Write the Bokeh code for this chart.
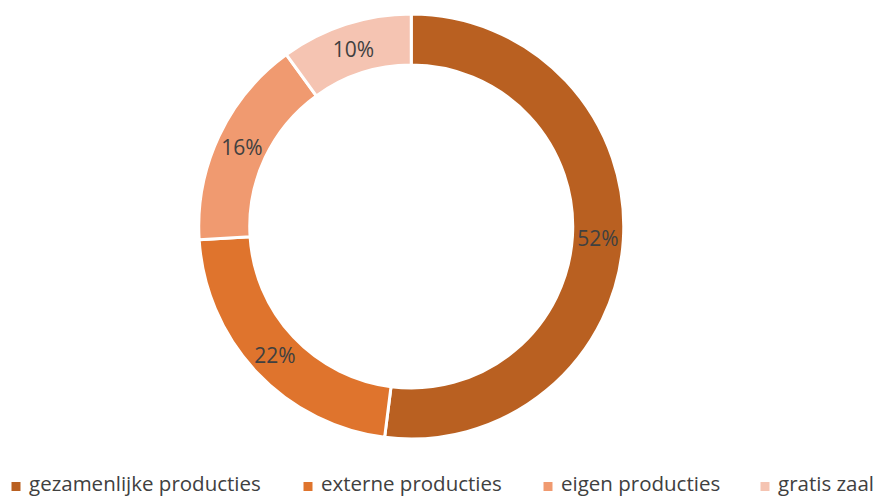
import math
from bokeh.plotting import figure
from bokeh.models import ColumnDataSource, Range1d
from bokeh.core.properties import value
from bokeh.embed import file_html
from bokeh.resources import INLINE

categories = ["gezamenlijke producties", "externe producties", "eigen producties", "gratis zaal"]
shares = [52, 22, 16, 10]
colors = ["#B96021", "#DF742D", "#F09A70", "#F5C4B2"]

W, H = 876, 496
cx, cy = 410.75, H - 226.0
r_out, r_in = 212.5, 161.5

total = sum(shares)
starts, ends, mids = [], [], []
acc = 0.0
for s in shares:
    a0 = math.pi / 2 - 2 * math.pi * acc / total
    acc += s
    a1 = math.pi / 2 - 2 * math.pi * acc / total
    starts.append(a0)
    ends.append(a1)
    mids.append((a0 + a1) / 2)

r_lab = (r_out + r_in) / 2
src = ColumnDataSource(dict(
    start=starts, end=ends, color=colors,
    lx=[cx + r_lab * math.cos(m) for m in mids],
    ly=[cy + r_lab * math.sin(m) for m in mids],
    label=[f"{s}%" for s in shares],
))

p = figure(width=W, height=H, output_backend="svg", toolbar_location=None,
           x_range=Range1d(0, W), y_range=Range1d(0, H), min_border=0)
p.axis.visible = False
p.grid.visible = False
p.outline_line_color = None
p.background_fill_color = "white"
p.border_fill_color = "white"

p.annular_wedge(x=cx, y=cy, inner_radius=r_in, outer_radius=r_out,
                start_angle="start", end_angle="end", direction="clock",
                fill_color="color", line_color="white", line_width=3, source=src)

p.text(x="lx", y="ly", text="label", source=src, text_align="center",
       text_baseline="middle", text_font=value("Open Sans"), text_font_size="21px",
       text_color="#404040")

# legend
leg_x = [15.5, 307.5, 547.5, 764.5]
leg_sq_y = H - 486
leg_txt_y = H - 482
leg_src = ColumnDataSource(dict(
    x=leg_x, tx=[x + 13 for x in leg_x], y=[leg_sq_y] * 4, ty=[leg_txt_y] * 4,
    color=colors, label=categories))
p.scatter(x="x", y="y", marker="square", size=9, fill_color="color",
          line_color=None, source=leg_src)
p.text(x="tx", y="ty", text="label", source=leg_src, text_align="left",
       text_baseline="middle", text_font=value("Open Sans"), text_font_size="20.5px",
       text_color="#404040")

open("out.html", "w").write(file_html(p, INLINE))
